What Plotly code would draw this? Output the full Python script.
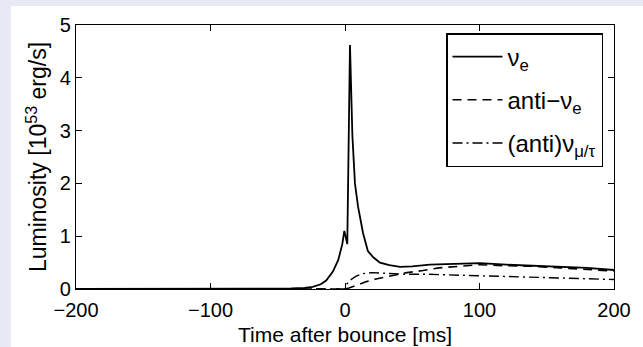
import plotly.graph_objects as go

# nu_e luminosity (10^53 erg/s)
t_nue = [-200, -150, -100, -70, -50, -40, -30, -24, -18, -14, -9, -5, -2, -0.5,
         1.7, 3.7, 5.5, 7.4, 9.7, 13.4, 17, 21, 26, 33, 41, 50, 63, 80, 100,
         120, 138, 160, 180, 200]
L_nue = [0.0, 0.0, 0.002, 0.003, 0.005, 0.01, 0.02, 0.04, 0.09, 0.16, 0.33, 0.55,
         0.85, 1.1, 0.85, 4.62, 2.9, 2.0, 1.56, 1.06, 0.72, 0.6, 0.5, 0.45, 0.42,
         0.43, 0.46, 0.47, 0.49, 0.46, 0.44, 0.42, 0.40, 0.36]

# anti-nu_e
t_anue = [-200, -100, 0, 3, 6, 10, 16, 23, 31, 40, 46, 58, 70, 85, 100, 120,
          140, 160, 180, 200]
L_anue = [0.0, 0.0, 0.0, 0.02, 0.05, 0.09, 0.14, 0.19, 0.23, 0.28, 0.31, 0.35,
          0.40, 0.43, 0.46, 0.44, 0.43, 0.40, 0.37, 0.34]

# (anti) nu_mu/tau
t_numu = [-200, -100, 0, 1.5, 4, 8, 13, 20, 30, 45, 60, 80, 100, 130, 160, 200]
L_numu = [0.0, 0.0, 0.0, 0.1, 0.17, 0.24, 0.29, 0.31, 0.30, 0.28, 0.28, 0.26,
          0.25, 0.23, 0.21, 0.18]

names = ["\u03bd<sub>e</sub>", "anti\u2212\u03bd<sub>e</sub>",
         "(anti)\u03bd<sub>\u03bc/\u03c4</sub>"]

x_ticks = [-200, -100, 0, 100, 200]
y_ticks = [0, 1, 2, 3, 4, 5]

FONT = "Liberation Sans"

fig = go.Figure()
fig.add_trace(go.Scatter(x=t_nue, y=L_nue, mode="lines", name=names[0],
                         legendgroup="a",
                         line=dict(color="black", width=1.8)))
fig.add_trace(go.Scatter(x=t_anue, y=L_anue, mode="lines", name=names[1],
                         legendgroup="b",
                         line=dict(color="black", width=1.6, dash="9px,6px")))
fig.add_trace(go.Scatter(x=t_numu, y=L_numu, mode="lines", name=names[2],
                         legendgroup="c",
                         line=dict(color="black", width=1.4, dash="10px,4px,2px,4px")))

W, H = 643, 347
L, R, T, B = 76, 29, 25, 58
pw, ph = W - L - R, H - T - B

# white panel behind the figure (starts 11 px from left, 6 px from top)
fig.add_shape(type="rect", xref="paper", yref="paper", layer="below",
              x0=(11 - L) / pw, x1=1.2,
              y0=-0.4, y1=(H - B - 6) / ph,
              fillcolor="white", line=dict(width=0))

# x-axis title placed as in the reference (between the tick labels)
fig.add_annotation(text="Time after bounce [ms]", xref="paper", yref="paper",
                   x=0.5, y=(H - B - 334) / ph, xanchor="center", yanchor="middle",
                   showarrow=False, font=dict(family=FONT, size=21, color="black"))

axis_common = dict(showline=True, mirror="ticks", linecolor="black", linewidth=1.3,
                   ticks="inside", ticklen=6, tickcolor="black", tickwidth=1,
                   showgrid=False, zeroline=False, automargin=False,
                   tickfont=dict(family=FONT, size=20, color="black"))

fig.update_layout(
    width=W, height=H,
    margin=dict(l=L, r=R, t=T, b=B),
    paper_bgcolor="#E9E9F5",
    plot_bgcolor="white",
    font=dict(family=FONT, color="black"),
    xaxis=dict(range=[-200, 200], tickvals=x_ticks,
               ticktext=[str(v).replace("-", "\u2212") for v in x_ticks],
               ticklabelstandoff=3,
               **axis_common),
    yaxis=dict(range=[0, 5], tickvals=y_ticks,
               title=dict(text="Luminosity [10<sup>53</sup> erg/s]", standoff=6,
                          font=dict(family=FONT, size=23)),
               **axis_common),
    legend=dict(x=(446 - L) / pw, y=(H - B - 33) / ph, xanchor="left", yanchor="top",
                bgcolor="white", bordercolor="black", borderwidth=1.5,
                font=dict(family=FONT, size=24, color="black"),
                tracegroupgap=9, itemwidth=50),
    showlegend=True,
)

fig.write_html("out.html")
